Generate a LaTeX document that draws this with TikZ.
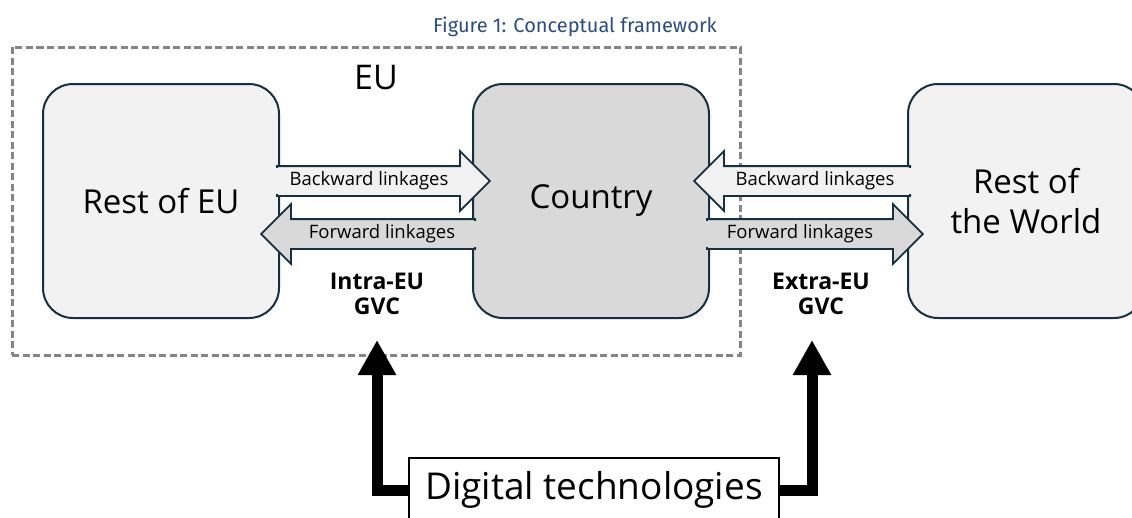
\documentclass[tikz,border=0pt]{standalone}
\usepackage{fontspec}
\setmainfont{Open Sans}
\newfontfamily\captionfont{Fira Sans}
\usetikzlibrary{arrows.meta,positioning,calc,shapes.arrows}
\definecolor{frameNavy}{HTML}{16303F}
\definecolor{restFill}{HTML}{F2F2F2}
\definecolor{ctryFill}{HTML}{D9D9D9}
\definecolor{euGray}{HTML}{858585}
\definecolor{capBlue}{HTML}{2B4C7E}

\begin{document}
\begin{tikzpicture}[x=1pt,y=-1pt,
  region/.style={draw=frameNavy,line width=2pt,rounded corners=30pt,minimum width=236pt,
    minimum height=234pt,align=center,font=\fontsize{33}{40}\selectfont},
  link/.style={single arrow,draw=frameNavy,line width=1.8pt,inner xsep=0pt,inner ysep=14pt,
    text height=0pt,text depth=0pt,single arrow head extend=15pt,anchor=tail},
  linktxt/.style={font=\fontsize{18.5}{20}\selectfont},
  gvc/.style={align=center,font=\bfseries\fontsize{23}{25}\selectfont},
  push/.style={line width=11pt,-{Triangle[width=36pt,length=35pt]}}]
\useasboundingbox (0,0) rectangle (1132,517);
\node[font=\captionfont\fontsize{20}{22}\selectfont,text=capBlue] (title) at (575,27) {Figure 1: Conceptual framework};
% EU frame
\node[draw=euGray,line width=3pt,dash pattern=on 7pt off 3.5pt,minimum width=728pt,minimum height=308pt] (eu) at (376,201) {};
\node[font=\fontsize{34}{36}\selectfont] (eulbl) at (376,78) {EU};
% regions
\node[region,fill=restFill] (rest) at (161,201) {Rest of EU};
\node[region,fill=ctryFill] (ctry) at (591,201) {Country};
\node[region,fill=restFill] (world) at (1026,201) {Rest of\\the World};
% linkages, left side
\node[link,fill=restFill,minimum height=213pt] (bwl) at (276,181) {};
\fill[restFill] (273.5,168.3) rectangle (281,193.7);
\node[link,fill=ctryFill,minimum height=214pt,shape border rotate=180] (fwl) at (476,234) {};
\fill[ctryFill] (471,221.3) rectangle (478.5,246.7);
\node[linktxt] (bwltxt) at (369,181) {Backward linkages};
\node[linktxt] (fwltxt) at (382,234) {Forward linkages};
% linkages, right side
\node[link,fill=restFill,minimum height=216pt,shape border rotate=180] (bwr) at (911,181) {};
\fill[restFill] (906,168.3) rectangle (913.5,193.7);
\node[link,fill=ctryFill,minimum height=216pt] (fwr) at (706,234) {};
\fill[ctryFill] (703.5,221.3) rectangle (711,246.7);
\node[linktxt] (bwrtxt) at (815,181) {Backward linkages};
\node[linktxt] (fwrtxt) at (800,234) {Forward linkages};
% GVC labels
\node[gvc] (intra) at (377,294) {Intra-EU\\GVC};
\node[gvc] (extra) at (821,294) {Extra-EU\\GVC};
% digital technologies
\coordinate (intratip) at (377,340);
\coordinate (extratip) at (812,340);
\node[draw,line width=2pt,fill=white,minimum width=370pt,minimum height=64pt,font=\fontsize{37}{40}\selectfont] (dig) at (594,490) {Digital technologies};
\draw[push] (dig.west) -| (intratip);
\draw[push] (dig.east) -| (extratip);
\end{tikzpicture}
\end{document}
